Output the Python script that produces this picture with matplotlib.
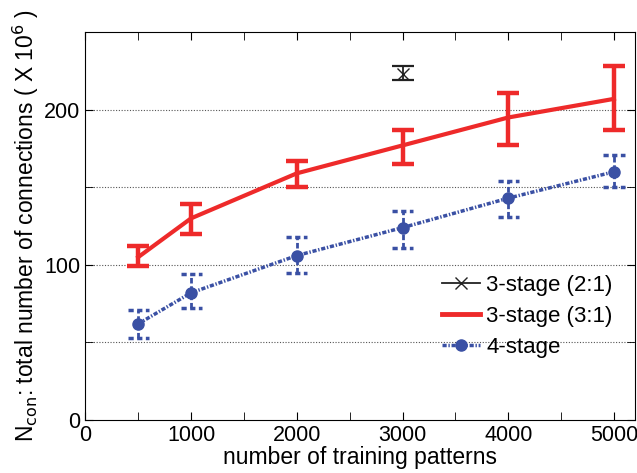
import matplotlib
matplotlib.use('Agg')
import matplotlib.pyplot as plt
from matplotlib.lines import Line2D
from matplotlib.ticker import MultipleLocator

plt.rcParams['font.family'] = ['Liberation Sans', 'DejaVu Sans']

# 3-stage (2:1)
x_21 = [3000]
y_21 = [223]
lo_21 = [219]
hi_21 = [228]

# 3-stage (3:1)
x_31 = [500, 1000, 2000, 3000, 4000, 5000]
y_31 = [105, 130, 159, 177, 195, 207]
lo_31 = [99, 120, 150, 165, 177, 187]
hi_31 = [112, 139, 167, 187, 211, 228]

# 4-stage
x_4 = [500, 1000, 2000, 3000, 4000, 5000]
y_4 = [62, 82, 106, 124, 143, 160]
lo_4 = [53, 72, 95, 111, 131, 150]
hi_4 = [71, 94, 118, 135, 154, 171]

red = '#ee2a2a'
blue = '#3a50a4'
black = '#222222'
blue_ls = (0, (1.2, 0.5, 0.4, 0.5))

fig = plt.figure(figsize=(6.37, 4.73), dpi=100)
ax = fig.add_axes([0.134, 0.112, 0.863, 0.82])

def err(y, lo, hi):
    return [[a - b for a, b in zip(y, lo)], [b - a for a, b in zip(y, hi)]]

ax.errorbar(x_21, y_21, yerr=err(y_21, lo_21, hi_21), color=black, marker='x',
            markersize=8, lw=1.3, capsize=8, capthick=1.6)
ax.errorbar(x_31, y_31, yerr=err(y_31, lo_31, hi_31), color=red, lw=3,
            capsize=8, capthick=3.2, elinewidth=3.2)

# 4-stage: dashed error bars and dashed caps
ax.plot(x_4, y_4, color=blue, lw=2.5, ls=blue_ls, marker='o', markersize=8, zorder=3)
ax.vlines(x_4, lo_4, hi_4, color=blue, lw=2, linestyles=[(0, (2, 1))])
cap_w = 100
for x, a, b in zip(x_4, lo_4, hi_4):
    ax.hlines([a, b], x - cap_w, x + cap_w, color=blue, lw=2.5, linestyles=[(0, (1.5, 1))])

ax.set_xlim(0, 5200)
ax.set_ylim(0, 250)
ax.xaxis.set_major_locator(MultipleLocator(1000))
ax.xaxis.set_minor_locator(MultipleLocator(500))
ax.yaxis.set_major_locator(MultipleLocator(100))
ax.yaxis.set_minor_locator(MultipleLocator(50))
ax.tick_params(which='both', direction='in', top=True, right=True, labelsize=15.5, length=6)
for y in [50, 100, 150, 200]:
    ax.axhline(y, color='#555555', lw=0.8, ls=(0, (1, 1.5)), zorder=0)

ax.set_xlabel('number of training patterns', fontsize=16.5, labelpad=0)
ax.set_ylabel('N$_{\\rm con}$: total number of connections ( X 10$^6$ )', fontsize=16.5, labelpad=2)

handles = [
    Line2D([], [], color=black, lw=1.3, marker='x', markersize=8),
    Line2D([], [], color=red, lw=3.5),
    Line2D([], [], color=blue, lw=2.5, ls=blue_ls, marker='o', markersize=8),
]
labels = ['3-stage (2:1)', '3-stage (3:1)', '4-stage']
ax.legend(handles, labels, loc='center left', bbox_to_anchor=(0.612, 0.268), frameon=False,
          fontsize=16, handlelength=1.7, handletextpad=0.3, labelspacing=0.45)

fig.savefig('out.png', dpi=100)
